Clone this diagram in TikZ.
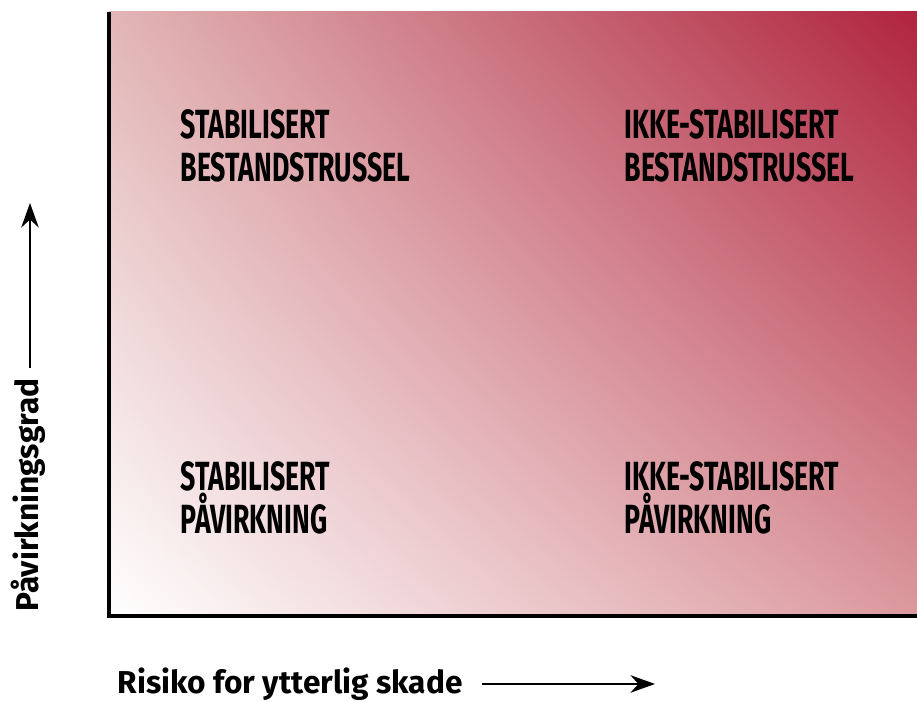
\documentclass[tikz,border=0pt]{standalone}
\usepackage{fontspec}
\setmainfont{Fira Sans}
\newfontfamily\quadfont[FakeStretch=0.655]{Fira Sans}
\usetikzlibrary{arrows.meta, shadings}
\definecolor{riskdark}{HTML}{B0243F}
\definecolor{riskhigh}{HTML}{E2B6B6}
\definecolor{riskwide}{HTML}{DB999E}

\begin{document}
\begin{tikzpicture}[>=Stealth,
  quadlabel/.style={anchor=north west, inner sep=0pt, align=left,
    font=\quadfont\bfseries\fontsize{11.6}{12.2}\selectfont},
  axislabel/.style={inner sep=0pt, font=\bfseries\fontsize{9}{11}\selectfont}]

  % Frame 9.17 wide by 7.02 tall, one pixel of the reference is 0.01.
  \useasboundingbox (0,0) rectangle (9.17,7.02);

  % The field: white in the lower left corner, dark red in the upper right.
  \shade[lower left=white, upper left=riskhigh, lower right=riskwide,
    upper right=riskdark] (1.09,0.86) rectangle (9.17,6.90);

  \draw[line width=0.9pt] (1.09,6.90) -- (1.09,0.86) -- (9.17,0.86);

  % The four quadrants.
  \node[quadlabel] (stabtrussel) at (1.80,5.93) {STABILISERT\\BESTANDSTRUSSEL};
  \node[quadlabel] (ikketrussel) at (6.24,5.93) {IKKE-STABILISERT\\BESTANDSTRUSSEL};
  \node[quadlabel] (stabpavirk) at (1.80,2.41) {STABILISERT\\PÅVIRKNING};
  \node[quadlabel] (ikkepavirk) at (6.24,2.41) {IKKE-STABILISERT\\PÅVIRKNING};

  % Axis names with their arrows.
  \node[axislabel, anchor=base west] (risiko) at (1.17,0.085) {Risiko for ytterlig skade};
  \coordinate (risikotip) at (6.55,0.18);
  \draw[line width=0.6pt, -{Stealth[length=7pt, width=5pt]}]
    ([xshift=0.19cm]risiko.east |- risikotip) -- (risikotip);

  \node[axislabel, anchor=base west, rotate=90] (grad) at (0.39,0.90) {Påvirkningsgrad};
  \coordinate (gradtip) at (0.30,4.99);
  \draw[line width=0.6pt, -{Stealth[length=7pt, width=5pt]}]
    ([yshift=0.10cm]gradtip |- grad.east) -- (gradtip);

\end{tikzpicture}
\end{document}
